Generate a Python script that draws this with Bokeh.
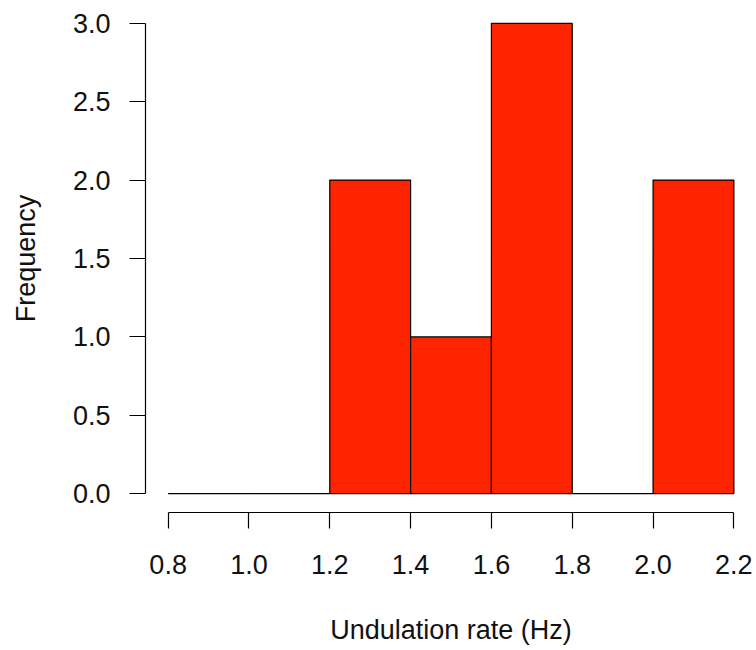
from bokeh.plotting import figure
from bokeh.models import FixedTicker, Range1d
from bokeh.embed import file_html
from bokeh.resources import INLINE

# Histogram data
bin_left = [0.8, 1.0, 1.2, 1.4, 1.6, 1.8, 2.0]
bin_right = [1.0, 1.2, 1.4, 1.6, 1.8, 2.0, 2.2]
counts = [0, 0, 2, 1, 3, 0, 2]

x_ticks = [0.8, 1.0, 1.2, 1.4, 1.6, 1.8, 2.0, 2.2]
y_ticks = [0.0, 0.5, 1.0, 1.5, 2.0, 2.5, 3.0]

FONT = "Liberation Sans"
FS = "27px"

p = figure(
    width=756, height=650,
    x_range=Range1d(0.744, 2.256), y_range=Range1d(-0.12, 3.12),
    output_backend="svg", toolbar_location=None,
    min_border_left=145, min_border_right=0,
    min_border_top=4, min_border_bottom=138,
)
p.outline_line_color = None
p.grid.visible = False
p.background_fill_color = "white"
p.border_fill_color = "white"

p.quad(left=bin_left, right=bin_right, bottom=0, top=counts,
       fill_color="#ff2400", line_color="black", line_width=1.2)

for ax, ticks, lbl in ((p.xaxis[0], x_ticks, "Undulation rate (Hz)"),
                       (p.yaxis[0], y_ticks, "Frequency")):
    ax.ticker = FixedTicker(ticks=ticks)
    ax.major_label_overrides = {t: f"{t:.1f}" for t in ticks}
    ax.bounds = (ticks[0], ticks[-1])
    ax.axis_label = lbl
    ax.axis_label_text_font = FONT
    ax.axis_label_text_font_size = FS
    ax.axis_label_text_font_style = "normal"
    ax.axis_label_text_color = "#111111"
    ax.major_label_text_font = FONT
    ax.major_label_text_font_size = FS
    ax.major_label_text_color = "#111111"
    ax.axis_line_color = "black"
    ax.axis_line_width = 1.2
    ax.major_tick_line_color = "black"
    ax.major_tick_line_width = 1.2
    ax.major_tick_out = 16
    ax.major_tick_in = 0
    ax.minor_tick_line_color = None

p.xaxis.major_label_standoff = 26
p.xaxis.axis_label_standoff = 38
p.yaxis.major_label_standoff = 19
p.yaxis.axis_label_standoff = 29

open("out.html", "w").write(file_html(p, INLINE))
